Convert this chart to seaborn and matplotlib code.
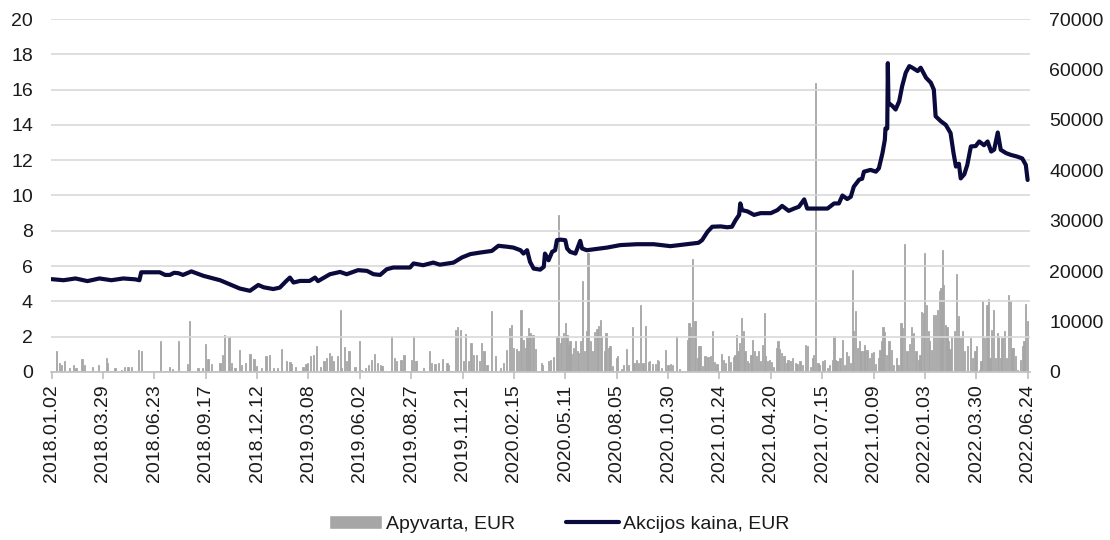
import pandas as pd
import matplotlib
matplotlib.use('Agg')
import matplotlib.pyplot as plt
import matplotlib.dates as mdates
from matplotlib.patches import Patch
from matplotlib.lines import Line2D
import seaborn as sns

# share price, EUR (left axis)
price_dates = [
    '2018-01-02', '2018-01-22', '2018-02-11', '2018-03-03', '2018-03-23', '2018-04-12',
    '2018-05-02', '2018-05-22', '2018-05-29', '2018-06-01', '2018-07-02', '2018-07-11',
    '2018-07-19', '2018-07-26', '2018-08-02', '2018-08-10', '2018-08-24', '2018-09-13',
    '2018-10-11', '2018-10-27', '2018-11-13', '2018-11-30', '2018-12-14', '2018-12-23',
    '2019-01-08', '2019-01-19', '2019-01-30', '2019-02-05', '2019-02-11', '2019-02-22',
    '2019-03-10', '2019-03-19', '2019-03-24', '2019-04-13', '2019-04-30', '2019-05-11',
    '2019-05-30', '2019-06-14', '2019-06-25', '2019-07-06', '2019-07-17', '2019-07-28',
    '2019-08-25', '2019-08-31', '2019-09-16', '2019-10-03', '2019-10-14', '2019-11-06',
    '2019-11-20', '2019-12-04', '2019-12-21', '2020-01-09', '2020-01-20', '2020-02-03',
    '2020-02-14', '2020-02-26', '2020-03-02', '2020-03-08', '2020-03-13', '2020-03-19',
    '2020-03-30', '2020-04-05', '2020-04-07', '2020-04-13', '2020-04-19', '2020-04-24',
    '2020-04-27', '2020-05-03', '2020-05-11', '2020-05-14', '2020-05-19', '2020-05-28',
    '2020-06-05', '2020-06-08', '2020-06-16', '2020-06-27', '2020-07-20', '2020-08-11',
    '2020-09-08', '2020-10-06', '2020-11-03', '2020-12-01', '2020-12-20', '2020-12-26',
    '2021-01-04', '2021-01-12', '2021-01-26', '2021-02-06', '2021-02-14', '2021-02-20',
    '2021-02-26', '2021-02-28', '2021-03-03', '2021-03-12', '2021-03-23', '2021-04-03',
    '2021-04-20', '2021-05-01', '2021-05-09', '2021-05-20', '2021-05-29', '2021-06-06',
    '2021-06-15', '2021-06-20', '2021-07-01', '2021-07-24', '2021-08-04', '2021-08-12',
    '2021-08-18', '2021-08-26', '2021-09-01', '2021-09-06', '2021-09-15', '2021-09-20',
    '2021-09-23', '2021-10-04', '2021-10-13', '2021-10-18', '2021-10-24', '2021-10-28',
    '2021-10-29', '2021-11-01', '2021-11-02', '2021-11-03', '2021-11-10', '2021-11-15',
    '2021-11-21', '2021-11-26', '2021-12-02', '2021-12-08', '2021-12-13', '2021-12-22',
    '2021-12-27', '2022-01-05', '2022-01-13', '2022-01-18', '2022-01-21', '2022-01-30',
    '2022-02-07', '2022-02-15', '2022-02-20', '2022-02-24', '2022-03-01', '2022-03-04',
    '2022-03-10', '2022-03-15', '2022-03-21', '2022-03-29', '2022-04-04', '2022-04-12',
    '2022-04-18', '2022-04-24', '2022-04-29', '2022-05-05', '2022-05-10', '2022-05-19',
    '2022-05-27', '2022-06-07', '2022-06-15', '2022-06-21', '2022-06-24',
]
price_values = [
    5.26, 5.20, 5.30, 5.15, 5.30, 5.20,
    5.30, 5.25, 5.20, 5.65, 5.65, 5.50,
    5.50, 5.62, 5.60, 5.50, 5.70, 5.45,
    5.20, 4.97, 4.73, 4.60, 4.93, 4.80,
    4.70, 4.78, 5.16, 5.35, 5.07, 5.16,
    5.16, 5.35, 5.15, 5.54, 5.67, 5.54,
    5.77, 5.73, 5.54, 5.50, 5.82, 5.92,
    5.92, 6.15, 6.05, 6.20, 6.08, 6.20,
    6.49, 6.68, 6.77, 6.86, 7.15, 7.10,
    7.05, 6.90, 6.71, 6.90, 6.24, 5.86,
    5.80, 5.96, 6.71, 6.33, 6.81, 6.90,
    7.47, 7.50, 7.47, 7.00, 6.81, 6.71,
    7.43, 7.00, 6.90, 6.95, 7.05, 7.19,
    7.24, 7.24, 7.13, 7.24, 7.32, 7.47,
    7.94, 8.23, 8.25, 8.20, 8.23, 8.60,
    8.90, 9.55, 9.17, 9.10, 8.90, 9.00,
    9.00, 9.17, 9.41, 9.13, 9.26, 9.36,
    9.78, 9.26, 9.26, 9.26, 9.55, 9.55,
    10.00, 9.80, 9.93, 10.50, 10.90, 10.95,
    11.35, 11.45, 11.35, 11.54, 12.40, 13.16,
    13.80, 13.80, 17.50, 15.25, 15.06, 14.87,
    15.34, 16.20, 16.96, 17.33, 17.24, 17.05,
    17.24, 16.67, 16.39, 16.00, 14.49, 14.20,
    14.00, 13.54, 12.40, 11.64, 11.80, 10.97,
    11.20, 11.73, 12.78, 12.80, 13.06, 12.85,
    13.06, 12.49, 12.60, 13.57, 12.59, 12.40,
    12.30, 12.20, 12.10, 11.73, 10.88,
]

# daily turnover, EUR (right axis)
turnover_dates = [
    '2018-01-10', '2018-01-15', '2018-01-18', '2018-01-24', '2018-02-01', '2018-02-07',
    '2018-02-12', '2018-02-22', '2018-02-26', '2018-03-12', '2018-03-21', '2018-04-04',
    '2018-04-06', '2018-04-18', '2018-04-29', '2018-05-04', '2018-05-10', '2018-05-16',
    '2018-05-28', '2018-06-01', '2018-07-03', '2018-07-19', '2018-07-24', '2018-08-02',
    '2018-08-17', '2018-08-21', '2018-09-04', '2018-09-12', '2018-09-17', '2018-09-21',
    '2018-09-27', '2018-10-11', '2018-10-15', '2018-10-19', '2018-10-26', '2018-10-30',
    '2018-11-05', '2018-11-12', '2018-11-16', '2018-11-22', '2018-11-30', '2018-12-07',
    '2018-12-11', '2018-12-20', '2018-12-27', '2019-01-02', '2019-01-08', '2019-01-15',
    '2019-01-22', '2019-01-30', '2019-02-05', '2019-02-08', '2019-02-15', '2019-02-27',
    '2019-03-04', '2019-03-07', '2019-03-12', '2019-03-16', '2019-03-21', '2019-03-28',
    '2019-04-03', '2019-04-07', '2019-04-12', '2019-04-16', '2019-04-19', '2019-04-25',
    '2019-04-30', '2019-05-03', '2019-05-08', '2019-05-11', '2019-05-15', '2019-05-25',
    '2019-06-01', '2019-06-05', '2019-06-11', '2019-06-16', '2019-06-22', '2019-06-27',
    '2019-07-01', '2019-07-06', '2019-07-09', '2019-07-25', '2019-07-30', '2019-08-03',
    '2019-08-10', '2019-08-15', '2019-08-28', '2019-08-31', '2019-09-03', '2019-09-05',
    '2019-09-16', '2019-09-27', '2019-09-30', '2019-10-06', '2019-10-12', '2019-10-19',
    '2019-10-26', '2019-10-28', '2019-11-09', '2019-11-13', '2019-11-17', '2019-11-23',
    '2019-11-26', '2019-12-01', '2019-12-05', '2019-12-10', '2019-12-14', '2019-12-20',
    '2019-12-23', '2019-12-27', '2020-01-01', '2020-01-09', '2020-01-15', '2020-01-23',
    '2020-01-29', '2020-02-03', '2020-02-08', '2020-02-11', '2020-02-14', '2020-02-19',
    '2020-02-23', '2020-02-27', '2020-03-02', '2020-03-05', '2020-03-08', '2020-03-11',
    '2020-03-13', '2020-03-18', '2020-03-22', '2020-04-01', '2020-04-03', '2020-04-13',
    '2020-04-16', '2020-04-21', '2020-04-27', '2020-04-29', '2020-05-03', '2020-05-05',
    '2020-05-08', '2020-05-11', '2020-05-14', '2020-05-17', '2020-05-19', '2020-05-22',
    '2020-05-25', '2020-05-28', '2020-05-31', '2020-06-02', '2020-06-05', '2020-06-09',
    '2020-06-12', '2020-06-15', '2020-06-18', '2020-06-22', '2020-06-26', '2020-06-29',
    '2020-07-03', '2020-07-06', '2020-07-09', '2020-07-11', '2020-07-15', '2020-07-18',
    '2020-07-22', '2020-07-25', '2020-07-29', '2020-08-05', '2020-08-07', '2020-08-13',
    '2020-08-17', '2020-08-21', '2020-08-25', '2020-08-31', '2020-09-03', '2020-09-07',
    '2020-09-10', '2020-09-14', '2020-09-18', '2020-09-22', '2020-09-27', '2020-09-29',
    '2020-10-04', '2020-10-09', '2020-10-12', '2020-10-14', '2020-10-19', '2020-10-26',
    '2020-10-30', '2020-11-03', '2020-11-07', '2020-11-13', '2020-11-18', '2020-11-23',
    '2020-12-01', '2020-12-04', '2020-12-07', '2020-12-10', '2020-12-14', '2020-12-18',
    '2020-12-21', '2020-12-23', '2020-12-27', '2020-12-31', '2021-01-05', '2021-01-09',
    '2021-01-12', '2021-01-16', '2021-01-20', '2021-01-27', '2021-01-31', '2021-02-03',
    '2021-02-08', '2021-02-12', '2021-02-16', '2021-02-19', '2021-02-22', '2021-02-24',
    '2021-02-27', '2021-03-02', '2021-03-05', '2021-03-08', '2021-03-12', '2021-03-14',
    '2021-03-18', '2021-03-21', '2021-03-24', '2021-03-27', '2021-03-30', '2021-04-03',
    '2021-04-06', '2021-04-09', '2021-04-11', '2021-04-14', '2021-04-18', '2021-04-21',
    '2021-04-25', '2021-04-29', '2021-05-02', '2021-05-05', '2021-05-08', '2021-05-12',
    '2021-05-16', '2021-05-19', '2021-05-23', '2021-05-27', '2021-05-31', '2021-06-03',
    '2021-06-08', '2021-06-12', '2021-06-17', '2021-06-20', '2021-06-25', '2021-06-29',
    '2021-07-01', '2021-07-04', '2021-07-08', '2021-07-11', '2021-07-15', '2021-07-19',
    '2021-07-24', '2021-07-28', '2021-08-01', '2021-08-04', '2021-08-07', '2021-08-09',
    '2021-08-14', '2021-08-18', '2021-08-21', '2021-08-25', '2021-08-28', '2021-09-01',
    '2021-09-04', '2021-09-06', '2021-09-09', '2021-09-12', '2021-09-15', '2021-09-18',
    '2021-09-23', '2021-09-24', '2021-09-28', '2021-10-02', '2021-10-05', '2021-10-09',
    '2021-10-13', '2021-10-17', '2021-10-20', '2021-10-22', '2021-10-25', '2021-10-28',
    '2021-10-31', '2021-11-04', '2021-11-08', '2021-11-12', '2021-11-16', '2021-11-19',
    '2021-11-24', '2021-11-26', '2021-11-30', '2021-12-04', '2021-12-08', '2021-12-12',
    '2021-12-15', '2021-12-19', '2021-12-23', '2021-12-26', '2021-12-29', '2022-01-01',
    '2022-01-03', '2022-01-06', '2022-01-09', '2022-01-11', '2022-01-14', '2022-01-17',
    '2022-01-21', '2022-01-24', '2022-01-27', '2022-01-30', '2022-02-01', '2022-02-03',
    '2022-02-06', '2022-02-09', '2022-02-12', '2022-02-14', '2022-02-17', '2022-02-21',
    '2022-02-25', '2022-02-28', '2022-03-03', '2022-03-07', '2022-03-11', '2022-03-15',
    '2022-03-20', '2022-03-24', '2022-03-28', '2022-03-31', '2022-04-04', '2022-04-07',
    '2022-04-10', '2022-04-13', '2022-04-17', '2022-04-20', '2022-04-22', '2022-04-25',
    '2022-04-28', '2022-05-01', '2022-05-04', '2022-05-06', '2022-05-09', '2022-05-12',
    '2022-05-16', '2022-05-19', '2022-05-23', '2022-05-26', '2022-05-29', '2022-06-01',
    '2022-06-04', '2022-06-07', '2022-06-12', '2022-06-16', '2022-06-18', '2022-06-21',
    '2022-06-24',
]
turnover_values = [
    4230, 1780, 1450, 2100, 800, 1320,
    800, 2640, 1450, 925, 1320, 2780,
    1780, 800, 460, 925, 925, 925,
    4430, 4100, 6080, 990, 600, 6080,
    1590, 10050, 800, 800, 5620, 2640,
    1590, 1780, 3300, 7400, 6940, 1780,
    800, 4300, 1450, 1780, 3640, 2640,
    1120, 800, 3100, 3440, 800, 800,
    4630, 2100, 1980, 1590, 925, 990,
    1590, 1780, 3100, 3440, 5090, 990,
    2120, 2780, 3770, 3100, 2120, 3240,
    12230, 800, 4960, 2120, 4100, 925,
    6080, 460, 800, 1320, 2450, 3570,
    1780, 1450, 1120, 7070, 2780, 2120,
    2450, 3440, 2450, 7070, 2120, 2120,
    800, 4100, 1780, 1590, 1780, 2580,
    1780, 1450, 8400, 8860, 8400, 2120,
    7540, 2120, 5750, 3440, 3440, 2120,
    5750, 4100, 1450, 12030, 3100, 800,
    1780, 4430, 8725, 9250, 4760, 4630,
    4100, 12360, 6400, 4760, 7070, 8725,
    7730, 7400, 4630, 1780, 1320, 2250,
    2450, 2910, 7070, 31200, 5750, 6740,
    7730, 9720, 7400, 5420, 6210, 3570,
    4760, 6080, 4230, 3770, 6080, 17980,
    4100, 8200, 23600, 6080, 4100, 7930,
    8590, 9060, 10380, 7070, 4230, 7730,
    4760, 5090, 1120, 2780, 3110, 660,
    1450, 4630, 1450, 8860, 1780, 2450,
    1780, 13220, 1780, 9060, 1980, 2120,
    1590, 1590, 2450, 2120, 800, 4430,
    1320, 1590, 1320, 7200, 600, 260,
    6410, 9720, 8860, 22470, 10050, 2780,
    5090, 5090, 1120, 3110, 2910, 3110,
    8200, 1980, 1590, 3570, 2450, 1780,
    3110, 1980, 2910, 3440, 7400, 4230,
    5750, 10700, 8060, 4100, 2120, 1780,
    3440, 6410, 4230, 3110, 4100, 2120,
    5420, 11700, 3110, 2120, 2450, 1980,
    930, 4760, 6080, 4630, 3770, 3110,
    1780, 2450, 2120, 2780, 1780, 1590,
    2250, 1450, 5420, 5090, 930, 2780,
    3440, 57300, 1780, 1450, 2120, 2450,
    800, 1320, 2450, 7070, 2450, 2120,
    2780, 6410, 1450, 3970, 3110, 1780,
    20300, 8060, 12030, 4760, 6080, 4100,
    4100, 5290, 4430, 2780, 3770, 3970,
    1590, 2780, 4430, 6210, 8860, 7930,
    3440, 6210, 4430, 1450, 2780, 1450,
    9720, 8725, 25380, 4100, 5550, 8860,
    7730, 4230, 2450, 3440, 11900, 11700,
    23600, 13350, 8060, 6210, 4430, 11240,
    11370, 12360, 16000, 16660, 24260, 17320,
    9390, 8860, 6080, 4630, 6870, 8060,
    19500, 11040, 6740, 8060, 4100, 5090,
    6740, 2780, 4100, 5090, 460, 2120,
    14010, 6740, 13350, 14480, 2780, 8400,
    12360, 2780, 7730, 7070, 2780, 6740,
    8060, 2780, 15200, 14150, 4760, 4760,
    3110, 460, 2450, 5090, 6080, 13480,
    10050,
]
assert len(turnover_dates) == len(turnover_values)
assert len(price_dates) == len(price_values)

tick_start = '2018-01-02'
tick_step = '86D'
tick_count = 20

sns.set_theme(style='white')
plt.rcParams['font.family'] = ['Liberation Sans', 'DejaVu Sans']

price = pd.DataFrame({'date': pd.to_datetime(price_dates), 'price': price_values})
turnover = pd.DataFrame({'date': pd.to_datetime(turnover_dates), 'value': turnover_values})

bar_color = '#A6A6A6'
line_color = '#0A0A3C'
text_color = '#1A1A1A'

fig = plt.figure(figsize=(11.1, 5.4), dpi=100)
ax = fig.add_axes([51 / 1110, 1 - 372 / 540, (1030 - 51) / 1110, (372 - 19) / 540])
ax2 = ax.twinx()

# thin outline in the same grey keeps every narrow bar solid
ax2.bar(turnover['date'], turnover['value'], width=2.0, color=bar_color,
        edgecolor=bar_color, linewidth=0.6)
sns.lineplot(data=price, x='date', y='price', ax=ax, color=line_color, linewidth=3.0)

# line above the bars
ax.set_zorder(ax2.get_zorder() + 1)
ax.patch.set_visible(False)

ax.set_ylim(0, 20)
ax.set_yticks(range(0, 21, 2))
ax2.set_ylim(0, 70000)
ax2.set_yticks(range(0, 70001, 10000))
ax.set_xlim(pd.Timestamp('2018-01-01'), pd.Timestamp('2022-06-28'))
ax.set_xticks(pd.date_range(tick_start, periods=tick_count, freq=tick_step))
ax.xaxis.set_major_formatter(mdates.DateFormatter('%Y.%m.%d'))

ax.grid(axis='y', color='#D9D9D9', linewidth=1.2)
ax.grid(axis='x', visible=False)
ax.set_xlabel('')
ax.set_ylabel('')
ax2.set_ylabel('')

for side in ['left', 'right', 'top']:
    ax.spines[side].set_visible(False)
for side in ax2.spines:
    ax2.spines[side].set_visible(False)
ax.spines['bottom'].set_color('#BFBFBF')
ax.spines['bottom'].set_linewidth(1.2)

ax.tick_params(axis='x', length=5, width=1.2, color='#BFBFBF', pad=4,
               labelsize=14, labelcolor=text_color, rotation=90, bottom=True)
ax.tick_params(axis='y', length=0, pad=13, labelsize=14, labelcolor=text_color)
ax2.tick_params(axis='y', length=0, pad=14, labelsize=14, labelcolor=text_color)

handles = [Patch(facecolor=bar_color, label='Apyvarta, EUR'),
           Line2D([], [], color=line_color, linewidth=3.0, label='Akcijos kaina, EUR')]
fig.legend(handles=handles, loc='center', bbox_to_anchor=(0.504, 0.03), ncol=2,
           frameon=False, fontsize=14, handlelength=2.7, handletextpad=0.25,
           columnspacing=2.6, labelcolor=text_color)

fig.savefig('out.png', dpi=100)
